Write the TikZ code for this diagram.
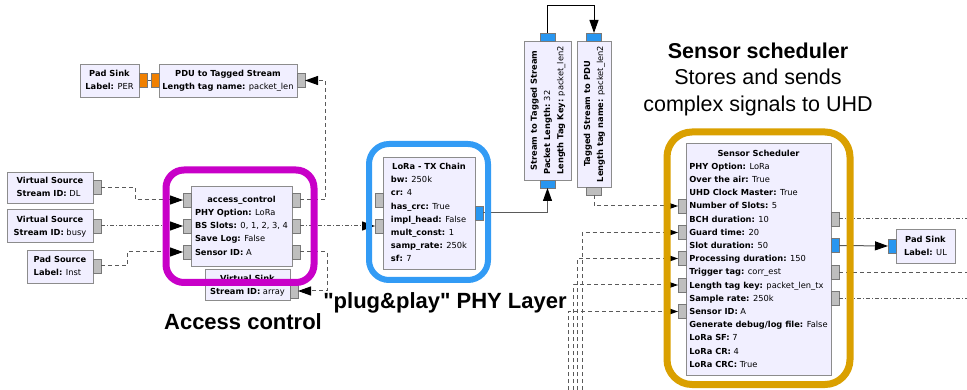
\documentclass[tikz,border=0pt]{standalone}
\usepackage{fontspec}
\setmainfont{Liberation Sans}
\newfontfamily\labelfont{Liberation Sans}
\newfontfamily\grcfont{DejaVu Sans}
\usetikzlibrary{positioning,arrows.meta}
\definecolor{blockfill}{RGB}{241,239,255}
\definecolor{blockline}{RGB}{140,140,140}
\definecolor{portgray}{RGB}{190,190,190}
\definecolor{portline}{RGB}{120,120,120}
\definecolor{portblue}{RGB}{40,150,240}
\definecolor{portorange}{RGB}{240,128,0}
\definecolor{wiregray}{RGB}{90,90,90}
\definecolor{accmagenta}{RGB}{200,0,200}
\definecolor{phyblue}{RGB}{50,155,245}
\definecolor{schedgold}{RGB}{218,160,0}
\tikzstyle{block} = [draw=blockline, fill=blockfill, inner sep=0pt, outer sep=0pt, font=\grcfont\fontsize{8.3}{13.2}\selectfont]
\tikzstyle{port} = [draw=portline, fill=portgray, minimum width=8pt, minimum height=14pt, inner sep=0pt, outer sep=0pt]
\tikzstyle{hport} = [port, minimum width=15pt, minimum height=8pt]
\tikzstyle{bport} = [port, fill=portblue]
\tikzstyle{oport} = [port, fill=portorange]
\tikzstyle{wire} = [draw=wiregray, line width=1pt]
\tikzstyle{msg} = [wire, dash pattern=on 4pt off 3pt]
\tikzstyle{msgdot} = [wire, dash pattern=on 4pt off 2pt on 1pt off 2pt]
\tikzstyle{tip} = [-{Triangle[length=13pt,width=9pt,color=black]}]
\tikzstyle{frame} = [line width=6pt]
\tikzstyle{caption} = [font=\labelfont\bfseries\fontsize{22}{27}\selectfont]
% block text: centred bold title over left aligned parameters
\newcommand{\grctext}[2]{\begin{tabular}{@{}l@{}}\multicolumn{1}{@{}c@{}}{\textbf{#1}}\\#2\end{tabular}}
\newcommand{\kv}[2]{\textbf{#1:} #2}

\begin{document}
\begin{tikzpicture}[x=1pt, y=-1pt]
        \useasboundingbox (0,0) rectangle (967,390);
        %Blocks
        \node [block, minimum width=59pt, minimum height=33pt] (padsinkper) at (109.5,80.5) {\grctext{Pad Sink}{\kv{Label}{PER}}};
        \node [block, minimum width=138pt, minimum height=33pt] (pdu) at (228,80.5) {\grctext{PDU to Tagged Stream}{\kv{Length tag name}{packet\_len}}};
        \node [block, minimum width=86pt, minimum height=31pt] (vsdl) at (50,187.5) {\grctext{Virtual Source}{\kv{Stream ID}{DL}}};
        \node [block, minimum width=86pt, minimum height=33pt] (vsbusy) at (50,226) {\grctext{Virtual Source}{\kv{Stream ID}{busy}}};
        \node [block, minimum width=66pt, minimum height=33pt] (padsrc) at (60,266.5) {\grctext{Pad Source}{\kv{Label}{Inst}}};
        \node [block, minimum width=101pt, minimum height=80pt] (access) at (241.5,226) {\grctext{access\_control}{\kv{PHY Option}{LoRa}\\\kv{BS Slots}{0, 1, 2, 3, 4}\\\kv{Save Log}{False}\\\kv{Sensor ID}{A}}};
        \node [block, minimum width=85pt, minimum height=31pt] (vsink) at (247.5,285) {\grctext{Virtual Sink}{\kv{Stream ID}{array}}};
        \node [block, minimum width=92pt, minimum height=112pt] (txchain) at (429,213) {\grctext{LoRa - TX Chain}{\kv{bw}{250k}\\\kv{cr}{4}\\\kv{has\_crc}{True}\\\kv{impl\_head}{False}\\\kv{mult\_const}{1}\\\kv{samp\_rate}{250k}\\\kv{sf}{7}}};
        \node [block, rotate=90, minimum width=139pt, minimum height=47pt] (sts) at (547.5,110.5) {\grctext{Stream to Tagged Stream}{\kv{Packet Length}{32}\\\kv{Length Tag Key}{packet\_len2}}};
        \node [block, rotate=90, minimum width=146pt, minimum height=34pt] (tspdu) at (594,114) {\grctext{Tagged Stream to PDU}{\kv{Length tag name}{packet\_len2}}};
        \node [block, minimum width=145pt, minimum height=232pt] (sched) at (758.5,259) {\grctext{Sensor Scheduler}{\kv{PHY Option}{LoRa}\\\kv{Over the air}{True}\\\kv{UHD Clock Master}{True}\\\kv{Number of Slots}{5}\\\kv{BCH duration}{10}\\\kv{Guard time}{20}\\\kv{Slot duration}{50}\\\kv{Processing duration}{150}\\\kv{Trigger tag}{corr\_est}\\\kv{Length tag key}{packet\_len\_tx}\\\kv{Sample rate}{250k}\\\kv{Sensor ID}{A}\\\kv{Generate debug/log file}{False}\\\kv{LoRa SF}{7}\\\kv{LoRa CR}{4}\\\kv{LoRa CRC}{True}}};
        \node [block, minimum width=59pt, minimum height=34pt] (padsinkul) at (925.5,246) {\grctext{Pad Sink}{\kv{Label}{UL}}};
        %Ports
        \node [oport] (padsinkperin) at (143.5,80.5) {};
        \node [oport] (pduout) at (155,80.5) {};
        \node [port] (pduin) at (301,80.5) {};
        \node [port] (vsdlout) at (97,187.5) {};
        \node [port] (vsbusyout) at (97,226) {};
        \node [port] (padsrcout) at (97,266) {};
        \foreach \y [count=\i] in {200,226,252} {
            \node [port] (accin\i) at (187,\y) {};
            \node [port] (accout\i) at (296,\y) {};
        }
        \node [port] (vsinkin) at (294,291) {};
        \node [port] (txin1) at (379,200) {};
        \node [port] (txin2) at (379,226) {};
        \node [bport] (txout) at (479,213) {};
        \node [hport, fill=portblue] (stsin) at (547.5,184) {};
        \node [hport, fill=portblue] (stsout) at (547.5,37) {};
        \node [hport, fill=portblue] (tspduin) at (594,37) {};
        \node [hport] (tspduout) at (594,191) {};
        \foreach \y [count=\i] in {206,232.5,258.5,285,311.5} {
            \node [port] (schedin\i) at (682,\y) {};
        }
        \node [port] (schedout1) at (835,219) {};
        \node [bport] (schedout2) at (835,245.5) {};
        \node [port] (schedout3) at (835,272.5) {};
        \node [port] (schedout4) at (835,298.5) {};
        \node [bport] (padsinkulin) at (892,246) {};
        %Loose ends
        \coordinate (feed2) at (582,390);
        \coordinate (feed3) at (577.5,390);
        \coordinate (feed4) at (573,390);
        \coordinate (feed5) at (568.5,390);
        \coordinate (edge1) at (967,219);
        \coordinate (edge3) at (967,272.5);
        \coordinate (edge4) at (967,298.5);
        %Arrows
        \draw[wire] (pduout.west) -- (padsinkperin.east);
        \draw[msg, tip] (accout1.east) -- ++(25,0) |- (pduin.east);
        \draw[msg, tip] (vsdlout.east) -- ++(34,0) |- (accin1.west);
        \draw[msgdot, tip] (vsbusyout.east) -- (accin2.west);
        \draw[msg, tip] (padsrcout.east) -- ++(26,0) |- (accin3.west);
        \draw[msgdot, tip] (accout2.east) -- (txin2.west);
        \draw[msg, tip] (accout3.east) -- ++(27,0) |- (vsinkin.east);
        \draw[wire, tip] (txout.east) -| (stsin.south);
        \draw[wire, draw=black, tip] (stsout.north) -- ++(0,-27) -| (tspduin.north);
        \draw[msg, tip] (tspduout.south) |- (schedin1.west);
        \foreach \i in {2,...,5} {
            \draw[msg, tip] (feed\i) |- (schedin\i.west);
        }
        \draw[msgdot] (schedout1.east) -- (edge1);
        \draw[wire, tip] (schedout2.east) -- (padsinkulin.west);
        \draw[msg] (schedout3.east) -- (edge3);
        \draw[msgdot] (schedout4.east) -- (edge4);
        %Frames
        \draw[frame, accmagenta, line width=7pt, rounded corners=18pt] (166,170) rectangle (314,282.5);
        \draw[frame, phyblue, rounded corners=20pt] (369,144) rectangle (488,280);
        \draw[frame, schedgold, line width=7pt, rounded corners=25pt] (667,132) rectangle (850,384.5);
        %Labels
        \node [caption] (acclabel) at (243,322) {Access control};
        \node [caption] (phylabel) at (445,303) {"plug\&play" PHY Layer};
        \node [align=center, font=\labelfont\fontsize{21.5}{26.5}\selectfont] (schedlabel) at (758,79) {\textbf{Sensor scheduler}\\Stores and sends\\complex signals to UHD};
    \end{tikzpicture}
\end{document}
